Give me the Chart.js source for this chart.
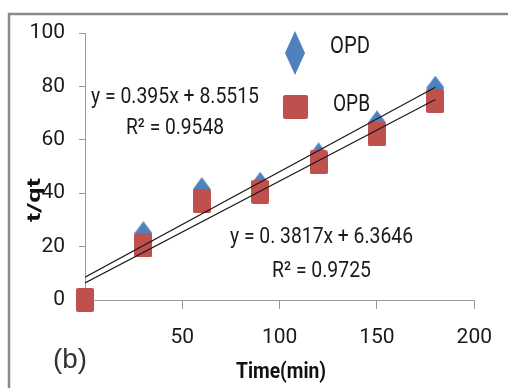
<!DOCTYPE html>
<html>
<head>
<meta charset="utf-8">
<script src="https://cdn.jsdelivr.net/npm/chart.js@4/dist/chart.umd.min.js"></script>
<style>
  html, body { margin: 0; padding: 0; background: #fff; }
  canvas { display: block; }
</style>
</head>
<body>
<canvas id="kinChart" width="508" height="388"></canvas>
<script>
// data
var times = [0, 30, 60, 90, 120, 150, 180];
var opdValues = [0, 25, 41.5, 43.5, 54.5, 66.5, 79.5];
var opbValues = [0, 20.5, 37, 40.5, 51.5, 62, 74.5];
var seriesNames = ['OPD', 'OPB'];
// trendline coefficients [slope, intercept] as printed on the chart
var opdFit = [0.395, 8.5515];
var opbFit = [0.3817, 6.3646];
var fitRange = [0, 180];
var xTicks = [50, 100, 150, 200];
var yTicks = [0, 20, 40, 60, 80, 100];

var FONT = 'Roboto, "Liberation Sans", sans-serif';
var BLUE = '#4F81BD';
var RED = '#C0504D';

// marker images (slightly taller than wide, like the original)
function makeMarker(shape, w, h, color) {
    var c = document.createElement('canvas');
    c.width = w; c.height = h;
    var g = c.getContext('2d');
    g.fillStyle = color;
    g.beginPath();
    if (shape === 'diamond') {
        g.moveTo(w / 2, 0);
        g.lineTo(w, h / 2);
        g.lineTo(w / 2, h);
        g.lineTo(0, h / 2);
        g.closePath();
    } else {
        g.roundRect(0, 0, w, h, 2);
    }
    g.fill();
    return c;
}

var diamondPt = makeMarker('diamond', 18, 24, BLUE);
var squarePt = makeMarker('rect', 18, 24, RED);
var diamondLeg = makeMarker('diamond', 20, 44, BLUE);
var squareLeg = makeMarker('rect', 25, 24, RED);

function pairs(xs, ys) {
    return xs.map(function (x, i) { return { x: x, y: ys[i] }; });
}
function fitLine(fit) {
    return fitRange.map(function (x) { return { x: x, y: fit[0] * x + fit[1] }; });
}

// draw text squeezed to a given width (the original font is narrow)
function fitText(ctx, txt, cx, cy, width) {
    var w = ctx.measureText(txt).width;
    ctx.save();
    ctx.translate(cx, cy);
    ctx.scale(width / w, 1);
    ctx.fillText(txt, 0, 0);
    ctx.restore();
}

// frame, legend, equations and axis titles
var decorations = {
    id: 'decorations',
    afterDraw: function (chart) {
        var ctx = chart.ctx;
        ctx.save();
        ctx.strokeStyle = '#8a8a8a';
        ctx.lineWidth = 2.5;
        ctx.strokeRect(9, 14, 600, 500);

        ctx.fillStyle = '#1a1a1a';
        ctx.textBaseline = 'middle';
        ctx.textAlign = 'center';

        // legend
        ctx.drawImage(diamondLeg, 285, 31);
        ctx.drawImage(squareLeg, 283, 95);
        ctx.font = '24px ' + FONT;
        fitText(ctx, seriesNames[0], 350, 47, 40);
        fitText(ctx, seriesNames[1], 351.5, 105, 37);

        // trendline equations
        ctx.font = '22px ' + FONT;
        fitText(ctx, 'y = ' + opdFit[0] + 'x + ' + opdFit[1], 175, 97, 168);
        fitText(ctx, 'R\u00B2 = 0.9548', 175, 128, 98);
        fitText(ctx, 'y = 0. ' + String(opbFit[0]).slice(2) + 'x + ' + opbFit[1], 321.5, 237, 183);
        fitText(ctx, 'R\u00B2 = 0.9725', 321.5, 271, 99);

        // panel label
        ctx.font = '27px "Liberation Sans", Arial, sans-serif';
        ctx.fillStyle = '#333';
        fitText(ctx, '(b)', 70, 361, 34);

        // axis titles
        ctx.fillStyle = '#111';
        ctx.font = 'bold 22px ' + FONT;
        fitText(ctx, 'Time(min)', 281, 372, 90);

        ctx.translate(35, 200);
        ctx.rotate(-Math.PI / 2);
        ctx.font = 'bold 19px ' + FONT;
        fitText(ctx, 't/qt', 0, 0, 44);
        ctx.restore();
    }
};

new Chart(document.getElementById('kinChart'), {
    type: 'scatter',
    data: {
        datasets: [
            { type: 'line', data: fitLine(opdFit), borderColor: '#1a1a1a', borderWidth: 1.2,
              pointRadius: 0, fill: false, order: 0 },
            { type: 'line', data: fitLine(opbFit), borderColor: '#1a1a1a', borderWidth: 1.2,
              pointRadius: 0, fill: false, order: 0 },
            { label: seriesNames[1], data: pairs(times, opbValues), pointStyle: squarePt,
              clip: false, order: 1 },
            { label: seriesNames[0], data: pairs(times, opdValues), pointStyle: diamondPt,
              clip: false, order: 2 }
        ]
    },
    options: {
        responsive: false,
        animation: false,
        layout: { padding: { left: 0, top: 33, right: 31, bottom: 0 } },
        plugins: { legend: { display: false }, tooltip: { enabled: false } },
        scales: {
            x: {
                type: 'linear', min: 0, max: 200,
                afterFit: function (s) { s.height = 88; },
                afterBuildTicks: function (s) { s.ticks = [0].concat(xTicks).map(function (v) { return { value: v }; }); },
                grid: { drawOnChartArea: false, tickLength: 9, color: '#9a9a9a' },
                border: { color: '#9a9a9a' },
                ticks: {
                    padding: 16, color: '#1a1a1a', font: { family: FONT, size: 21 },
                    callback: function (v) { return v === 0 ? '' : v; }
                }
            },
            y: {
                min: 0, max: 100,
                afterFit: function (s) { s.width = 85; },
                afterBuildTicks: function (s) { s.ticks = yTicks.map(function (v) { return { value: v }; }); },
                grid: { drawOnChartArea: false, tickLength: 6, color: '#9a9a9a' },
                border: { color: '#9a9a9a' },
                ticks: { padding: 14, color: '#1a1a1a', font: { family: FONT, size: 21 } }
            }
        }
    },
    plugins: [decorations]
});
</script>
</body>
</html>
